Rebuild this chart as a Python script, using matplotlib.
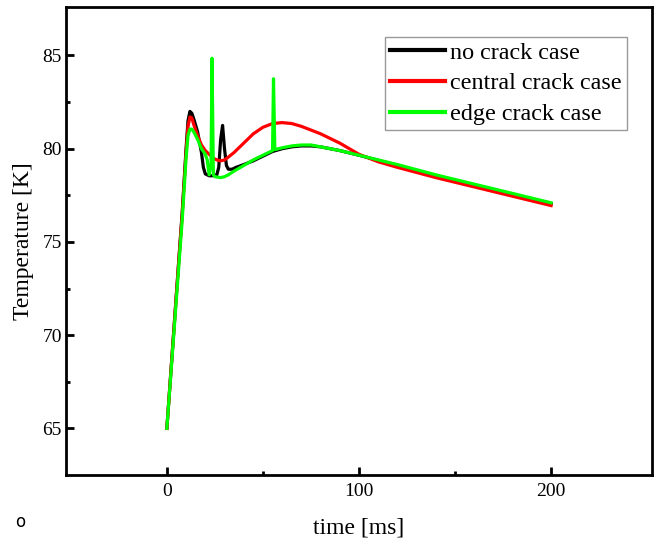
import matplotlib
matplotlib.use("Agg")
import matplotlib.pyplot as plt
from matplotlib.ticker import MultipleLocator, FixedLocator

plt.rcParams["font.family"] = ["Liberation Serif", "DejaVu Serif"]

# no crack case
t_none = [0, 2, 4, 6, 8, 10, 11, 12, 13, 14, 16, 18, 19, 20, 22, 24, 26, 27,
          28, 29, 30, 31, 32, 34, 36, 40, 45, 50, 55, 60, 65, 70, 75, 80, 90,
          100, 120, 140, 160, 180, 200]
T_none = [65.0, 67.9, 70.8, 73.7, 76.6, 80.0, 81.5, 82.0, 81.9, 81.6, 80.9,
          79.8, 79.0, 78.65, 78.55, 78.55, 78.6, 79.0, 80.5, 81.25, 80.0, 79.1,
          78.9, 78.9, 79.0, 79.15, 79.35, 79.6, 79.85, 80.0, 80.1, 80.15, 80.15,
          80.1, 79.9, 79.65, 79.1, 78.55, 78.05, 77.55, 77.05]

# central crack case
t_central = [0, 2, 4, 6, 8, 10, 11, 12, 13, 14, 16, 18, 20, 22, 24, 26, 28,
             30, 32, 35, 40, 45, 50, 55, 60, 65, 70, 75, 80, 85, 90, 95, 100,
             110, 120, 140, 160, 180, 200]
T_central = [65.0, 67.9, 70.8, 73.7, 76.5, 79.8, 81.2, 81.7, 81.65, 81.3,
             80.7, 80.2, 79.9, 79.7, 79.5, 79.4, 79.35, 79.4, 79.55, 79.8,
             80.3, 80.8, 81.15, 81.35, 81.4, 81.35, 81.2, 81.0, 80.8, 80.55,
             80.3, 80.0, 79.7, 79.3, 79.0, 78.45, 77.95, 77.45, 76.95]

# edge crack case
t_edge = [0, 2, 4, 6, 8, 10, 11, 12, 13, 14, 16, 18, 20, 21, 22, 23, 23.5,
          24.2, 25, 28, 30, 32, 35, 40, 45, 50, 55, 55.5, 56.2, 60, 65, 70,
          75, 80, 90, 100, 120, 140, 160, 180, 200]
T_edge = [65.0, 67.8, 70.6, 73.4, 76.2, 79.5, 80.7, 81.05, 81.05, 80.9, 80.5,
          80.0, 79.7, 79.4, 78.6, 79.2, 84.85, 78.6, 78.5, 78.45, 78.5, 78.6,
          78.8, 79.1, 79.4, 79.65, 79.9, 83.75, 79.95, 80.05, 80.15, 80.2,
          80.2, 80.1, 79.9, 79.65, 79.15, 78.6, 78.1, 77.6, 77.1]

fig = plt.figure(figsize=(6.56, 5.43), dpi=100)
ax = fig.add_axes([0.1006, 0.1252, 0.8933, 0.8619])

ax.plot(t_none, T_none, color="black", lw=2.3, label="no crack case")
ax.plot(t_central, T_central, color="#ff0000", lw=2.3, label="central crack case")
ax.plot(t_edge, T_edge, color="#00ff00", lw=2.3, label="edge crack case")

ax.set_xlim(-52.5, 252.5)
ax.set_ylim(62.5, 87.6)
ax.xaxis.set_major_locator(MultipleLocator(100))
ax.xaxis.set_minor_locator(FixedLocator([50, 150]))
ax.yaxis.set_major_locator(MultipleLocator(5))
ax.yaxis.set_minor_locator(FixedLocator([67.5, 72.5, 77.5, 82.5]))

for s in ax.spines.values():
    s.set_linewidth(2.0)
ax.tick_params(which="both", direction="in", top=False, right=False,
               width=2.0, labelsize=14)
ax.tick_params(which="major", length=6)
ax.tick_params(which="minor", length=3)
ax.tick_params(axis="x", pad=6)
ax.tick_params(axis="y", pad=3)

ax.set_xlabel("time [ms]", fontsize=17, labelpad=12)
ax.set_ylabel("Temperature [K]", fontsize=17, labelpad=6)

leg = ax.legend(loc="upper left", bbox_to_anchor=(0.587, 0.9319),
                bbox_transform=fig.transFigure, fontsize=17.4, frameon=True,
                fancybox=False, borderaxespad=0, borderpad=0.2,
                labelspacing=0.36, handlelength=2.3, handletextpad=0.2)
leg.get_frame().set_edgecolor("#808080")
leg.get_frame().set_linewidth(1.0)
for line in leg.get_lines():
    line.set_linewidth(3.0)

fig.text(0.023, 0.0387, "o", fontsize=12, family="DejaVu Sans", va="center")

fig.savefig("out.png", dpi=100)
